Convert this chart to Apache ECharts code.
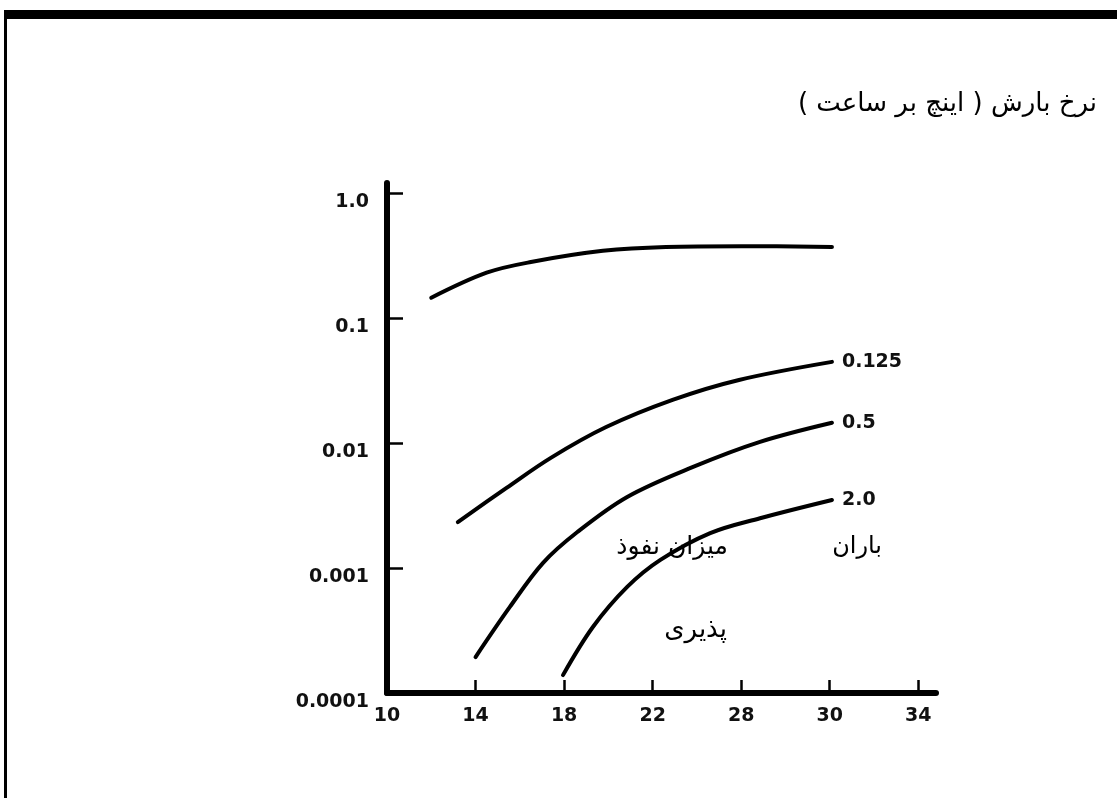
<!DOCTYPE html>
<html>
<head>
<meta charset="utf-8">
<script src="https://cdn.jsdelivr.net/npm/echarts@6/dist/echarts.min.js"></script>
<style>
html,body{margin:0;padding:0;background:#fff;}
#chart{width:1117px;height:798px;}
</style>
</head>
<body>
<div id="chart"></div>
<script>
// ---- data ----
const xTickValues = [10, 14, 18, 22, 26, 30, 34];
const xTickLabels = ['10', '14', '18', '22', '28', '30', '34'];
const yTickValues = [0.0001, 0.001, 0.01, 0.1, 1];
const yTickLabels = ['0.0001', '0.001', '0.01', '0.1', '1.0'];

const topCurveX = [12, 14.5, 16.5, 19.75, 22.6, 26, 30.1];
const topCurveY = [0.145, 0.23, 0.28, 0.344, 0.37, 0.375, 0.37];

const c0125X = [13.2, 15.4, 17.4, 19.9, 22.9, 25.9, 30.1];
const c0125Y = [0.00233, 0.00437, 0.0076, 0.0134, 0.0221, 0.0319, 0.0445];

const c05X = [14, 15.55, 17.05, 18.6, 20.85, 23.8, 26.85, 30.1];
const c05Y = [0.000194, 0.000488, 0.0011, 0.00194, 0.0037, 0.0064, 0.0102, 0.0145];

const c20X = [17.95, 19.3, 20.85, 22.35, 24.6, 26.85, 30.1];
const c20Y = [0.000139, 0.000337, 0.000705, 0.00116, 0.0019, 0.0025, 0.0035];

const curveNames = ['', '0.125', '0.5', '2.0'];
const yAxisTitle = 'نرخ بارش ( اینچ بر ساعت )';
const noteWords = ['میزان نفوذ', 'باران', 'پذیری'];

// ---- chart ----
const zip = (xs, ys) => xs.map((x, i) => [x, ys[i]]);
const tickFont = { fontFamily: 'DejaVu Sans', fontWeight: 'bold', fontSize: 19, color: '#111' };
const rtl = s => '\u200F' + s + '\u200F';

function lineSeries(name, xs, ys) {
  return {
    type: 'line', name: name, data: zip(xs, ys), smooth: 0.35, symbol: 'none',
    lineStyle: { color: '#000', width: 4, cap: 'round' },
    endLabel: name ? Object.assign({ show: true, formatter: name, distance: 10 }, tickFont) : { show: false },
    silent: true, animation: false
  };
}

const chart = echarts.init(document.getElementById('chart'), null, { renderer: 'canvas' });
chart.setOption({
  backgroundColor: '#fff',
  animation: false,
  grid: { left: 387, top: 183, width: 549, height: 510 },
  xAxis: {
    type: 'value', min: 10, max: 34.8,
    axisLine: { show: true, onZero: false, lineStyle: { color: '#000', width: 6 } },
    axisTick: { show: true, inside: true, length: 13, customValues: xTickValues.slice(1), lineStyle: { color: '#000', width: 2.5 } },
    axisLabel: Object.assign({
      customValues: xTickValues, margin: 14,
      formatter: v => { const i = xTickValues.indexOf(v); return i >= 0 ? xTickLabels[i] : ''; }
    }, tickFont),
    splitLine: { show: false }
  },
  yAxis: {
    type: 'log', logBase: 10, min: 0.0001, max: 1.2,
    axisLine: { show: true, onZero: false, lineStyle: { color: '#000', width: 6 } },
    axisTick: { show: true, inside: true, length: 16, customValues: yTickValues.slice(1), lineStyle: { color: '#000', width: 2.5 } },
    axisLabel: Object.assign({
      customValues: yTickValues, margin: 18, verticalAlign: 'top', lineHeight: 18,
      formatter: v => {
        let best = -1, bd = 1e9;
        yTickValues.forEach((t, i) => { const d = Math.abs(Math.log10(t) - Math.log10(v)); if (d < bd) { bd = d; best = i; } });
        return bd < 0.01 ? yTickLabels[best] : '';
      }
    }, tickFont),
    splitLine: { show: false }
  },
  series: [
    lineSeries(curveNames[0], topCurveX, topCurveY),
    lineSeries(curveNames[1], c0125X, c0125Y),
    lineSeries(curveNames[2], c05X, c05Y),
    lineSeries(curveNames[3], c20X, c20Y)
  ],
  graphic: [
    { type: 'rect', shape: { x: 5, y: 10, width: 1112, height: 9 }, style: { fill: '#000' }, silent: true },
    { type: 'rect', shape: { x: 4, y: 10, width: 3, height: 788 }, style: { fill: '#000' }, silent: true },
    { type: 'text', style: { text: rtl(yAxisTitle), x: 1097, y: 104, align: 'right', verticalAlign: 'middle', font: '26px "DejaVu Sans"', fill: '#000' }, silent: true },
    { type: 'text', style: { text: rtl(noteWords[0]), x: 728, y: 547, align: 'right', verticalAlign: 'middle', font: '25px "DejaVu Sans"', fill: '#000' }, silent: true },
    { type: 'text', style: { text: rtl(noteWords[1]), x: 882, y: 547, align: 'right', verticalAlign: 'middle', font: '24px "DejaVu Sans"', fill: '#000' }, silent: true },
    { type: 'text', style: { text: rtl(noteWords[2]), x: 727, y: 630, align: 'right', verticalAlign: 'middle', font: '26px "DejaVu Sans"', fill: '#000' }, silent: true }
  ]
});
</script>
</body>
</html>
